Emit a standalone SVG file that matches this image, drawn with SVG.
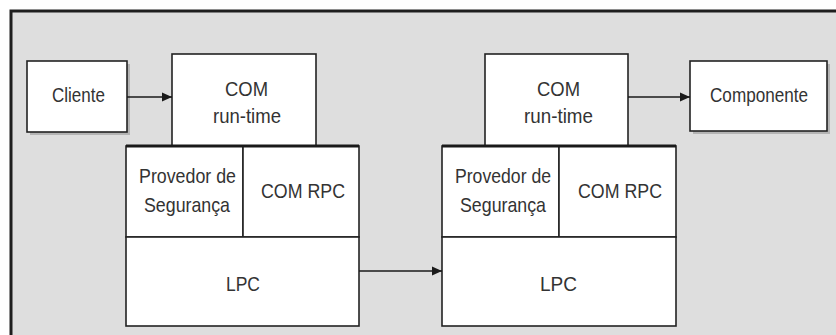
<svg xmlns="http://www.w3.org/2000/svg" width="836" height="335" viewBox="0 0 836 335">
  <defs>
    <marker id="arr" viewBox="0 0 10 10" refX="10" refY="5" markerWidth="10" markerHeight="10" markerUnits="userSpaceOnUse" orient="auto">
      <path d="M0,0.5 L10,5 L0,9.5 Z" fill="#1a1a1a"/>
    </marker>
  </defs>
  <style>
    .box { fill: #ffffff; stroke: #222222; stroke-width: 1.6; }
    .shadow { fill: #b4b4b4; }
    .lbl { font-family: "Liberation Sans", Arial, sans-serif; font-size: 21px; fill: #333333; text-anchor: middle; }
    .conn { stroke: #1a1a1a; stroke-width: 1.6; fill: none; marker-end: url(#arr); }
  </style>
  <rect x="0" y="0" width="836" height="335" fill="#ffffff"/>
  <rect x="11" y="11" width="830" height="330" fill="#dedede" stroke="#1e1e1e" stroke-width="3"/>

  <g id="cliente">
    <rect class="shadow" x="30" y="64" width="100" height="71"/>
    <rect class="box" x="27" y="61" width="100" height="71"/>
    <text class="lbl" x="78.5" y="102" textLength="53" lengthAdjust="spacingAndGlyphs">Cliente</text>
  </g>

  <g id="com-runtime-left">
    <rect class="box" x="172" y="54" width="144" height="92"/>
    <text class="lbl" x="246.5" y="96" textLength="43" lengthAdjust="spacingAndGlyphs">COM</text>
    <text class="lbl" x="247" y="123" textLength="68" lengthAdjust="spacingAndGlyphs">run-time</text>
  </g>

  <g id="provedor-left">
    <rect class="box" x="126" y="146" width="117" height="91"/>
    <text class="lbl" x="187.5" y="183" textLength="97" lengthAdjust="spacingAndGlyphs">Provedor de</text>
    <text class="lbl" x="187" y="212" textLength="86" lengthAdjust="spacingAndGlyphs">Segurança</text>
  </g>

  <g id="comrpc-left">
    <rect class="box" x="243" y="146" width="116" height="91"/>
    <text class="lbl" x="303" y="198" textLength="84" lengthAdjust="spacingAndGlyphs">COM RPC</text>
  </g>

  <g id="lpc-left">
    <rect class="box" x="126" y="237" width="233" height="89"/>
    <text class="lbl" x="243" y="291" textLength="34" lengthAdjust="spacingAndGlyphs">LPC</text>
  </g>
  <line x1="126" y1="146" x2="359" y2="146" stroke="#1a1a1a" stroke-width="3"/>

  <g id="com-runtime-right">
    <rect class="box" x="485" y="54" width="143" height="92"/>
    <text class="lbl" x="558.5" y="96" textLength="43" lengthAdjust="spacingAndGlyphs">COM</text>
    <text class="lbl" x="558.5" y="123" textLength="69" lengthAdjust="spacingAndGlyphs">run-time</text>
  </g>

  <g id="componente">
    <rect class="shadow" x="693" y="64" width="137" height="70"/>
    <rect class="box" x="690" y="61" width="137" height="70"/>
    <text class="lbl" x="759" y="102" textLength="98" lengthAdjust="spacingAndGlyphs">Componente</text>
  </g>

  <g id="provedor-right">
    <rect class="box" x="442" y="146" width="117" height="91"/>
    <text class="lbl" x="503" y="183" textLength="96" lengthAdjust="spacingAndGlyphs">Provedor de</text>
    <text class="lbl" x="503" y="212" textLength="86" lengthAdjust="spacingAndGlyphs">Segurança</text>
  </g>

  <g id="comrpc-right">
    <rect class="box" x="559" y="146" width="117" height="91"/>
    <text class="lbl" x="620" y="198" textLength="84" lengthAdjust="spacingAndGlyphs">COM RPC</text>
  </g>

  <g id="lpc-right">
    <rect class="box" x="442" y="237" width="234" height="89"/>
    <text class="lbl" x="558.5" y="291" textLength="37" lengthAdjust="spacingAndGlyphs">LPC</text>
  </g>
  <line x1="442" y1="146" x2="676" y2="146" stroke="#1a1a1a" stroke-width="3"/>

  <g id="connectors">
    <line class="conn" x1="127" y1="97" x2="172" y2="97"/>
    <line class="conn" x1="628" y1="97" x2="690" y2="97"/>
    <line class="conn" x1="359" y1="271" x2="442" y2="271"/>
  </g>
</svg>
